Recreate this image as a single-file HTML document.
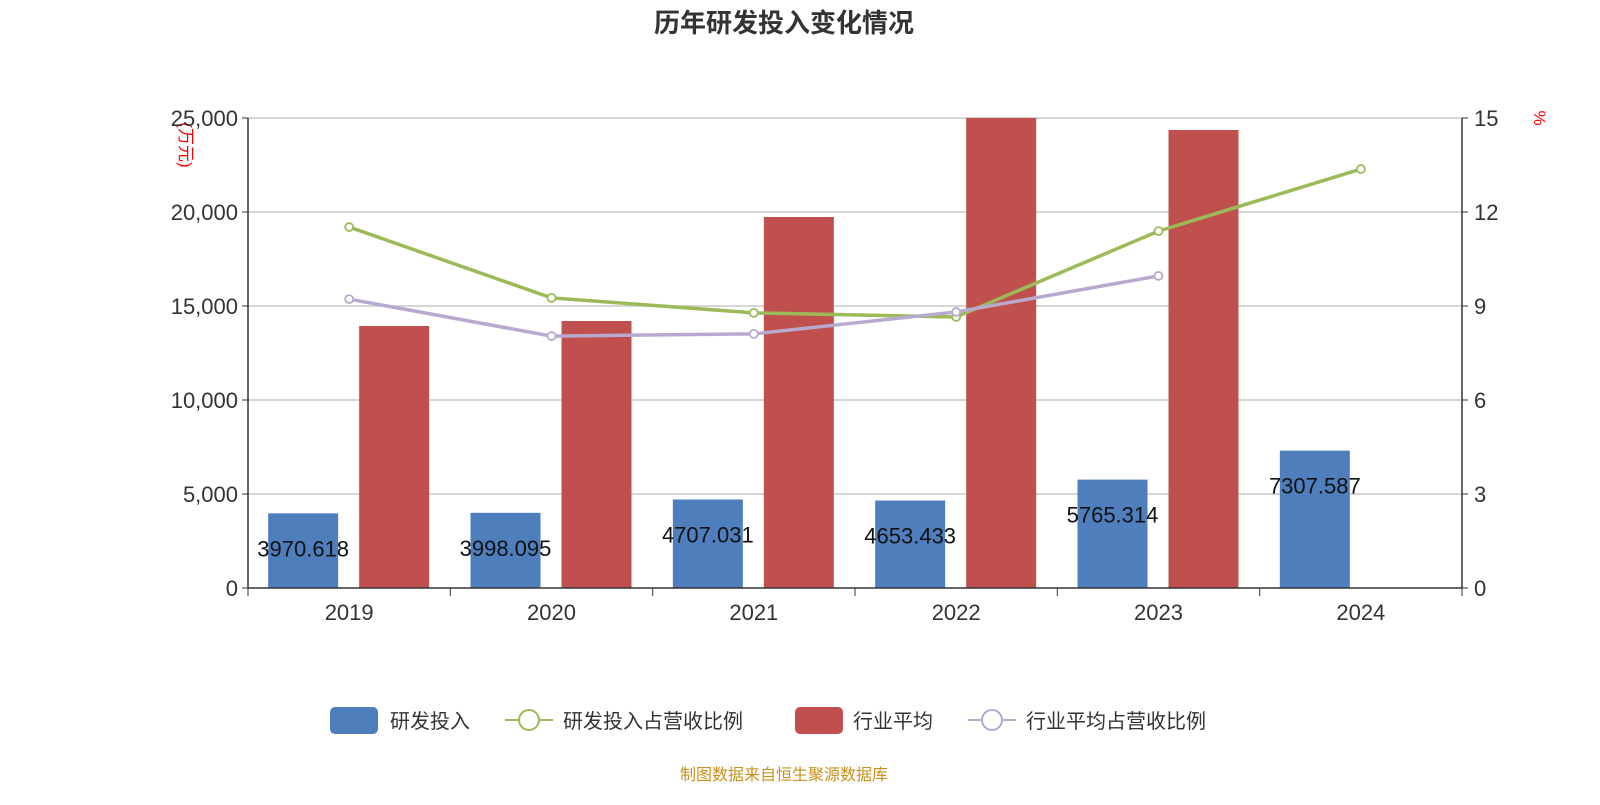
<!DOCTYPE html>
<html><head><meta charset="utf-8"><style>
body{margin:0;background:#fff;width:1600px;height:800px;overflow:hidden;font-family:"Liberation Sans","Noto Sans CJK SC",sans-serif}
</style></head><body>
<svg id="c" width="1600" height="800" xmlns="http://www.w3.org/2000/svg" font-family="Liberation Sans, Noto Sans CJK SC, sans-serif">
<text x="784" y="32" text-anchor="middle" font-size="26" font-weight="bold" fill="#333">历年研发投入变化情况</text>
<text transform="translate(180,145) rotate(90)" text-anchor="middle" font-size="17" fill="#f00">(万元)</text>
<text transform="translate(1534,118) rotate(90)" text-anchor="middle" font-size="17" fill="#f00">%</text>
<g id="grid"></g><g id="bars"></g><g id="lines"></g><g id="axes"></g>
<g font-size="20" fill="#333">
<g><rect x="330" y="707" width="48" height="27" rx="5" fill="#4f7ebd"/><text x="390" y="728">研发投入</text></g>
<g><line x1="505" y1="720" x2="553" y2="720" stroke="#9bbb59" stroke-width="2"/><circle cx="529" cy="720" r="10" fill="#fff" stroke="#9bbb59" stroke-width="2"/><text x="563" y="728">研发投入占营收比例</text></g>
<g><rect x="795" y="707" width="48" height="27" rx="5" fill="#c0504d"/><text x="853" y="728">行业平均</text></g>
<g><line x1="968" y1="720" x2="1016" y2="720" stroke="#b8a9cf" stroke-width="2"/><circle cx="992" cy="720" r="10" fill="#fff" stroke="#b8a9cf" stroke-width="2"/><text x="1026" y="728">行业平均占营收比例</text></g>
</g>
<text x="784" y="780" text-anchor="middle" font-size="16" fill="#c8901c">制图数据来自恒生聚源数据库</text>
</svg>
<script>
const categories=["2019","2020","2021","2022","2023","2024"];
const rdInvest=[3970.618,3998.095,4707.031,4653.433,5765.314,7307.587];
const industryAvg=[13936,14202,19734,25000,24362,null];
const rdRatio=[11.52,9.26,8.78,8.65,11.39,13.37];
const industryRatio=[9.22,8.04,8.11,8.81,9.96,null];
const leftTicks=[0,5000,10000,15000,20000,25000];
const rightTicks=[0,3,6,9,12,15];
const NS="http://www.w3.org/2000/svg";
const X0=248,X1=1462,Y0=588,Y1=118;
const band=(X1-X0)/categories.length;
const xc=i=>X0+band*(i+0.5);
const yL=v=>Y0-(Math.min(v,25000)/25000)*(Y0-Y1);
const yR=v=>Y0-(v/15)*(Y0-Y1);
function mk(tag,attrs,parent){const e=document.createElementNS(NS,tag);for(const k in attrs)e.setAttribute(k,attrs[k]);document.getElementById(parent).appendChild(e);return e;}
leftTicks.forEach((t,i)=>{
 const y=yL(t);
 if(t>0){const g=mk('line',{x1:X0,x2:X1,y1:y,y2:y,stroke:'#c8c8c8','stroke-width':1.5},'grid');
 
 }
 const l=mk('text',{x:X0-10,y:y+8,'text-anchor':'end','font-size':22,fill:'#333'},'axes');l.textContent=t.toLocaleString('en-US');
 
 
 mk('line',{x1:X0-6,x2:X0,y1:y,y2:y,stroke:'#333'},'axes');
});
rightTicks.forEach(t=>{
 const y=yR(t);
 const l=mk('text',{x:X1+12,y:y+8,'font-size':22,fill:'#333'},'axes');l.textContent=t;
 
 
 mk('line',{x1:X1,x2:X1+6,y1:y,y2:y,stroke:'#333'},'axes');
});
mk('line',{x1:X0,x2:X0,y1:Y1,y2:Y0,stroke:'#333','stroke-width':1.5},'axes');
mk('line',{x1:X1,x2:X1,y1:Y1,y2:Y0,stroke:'#333','stroke-width':1.5},'axes');
mk('line',{x1:X0,x2:X1,y1:Y0,y2:Y0,stroke:'#333','stroke-width':1.5},'axes');
for(let i=0;i<=categories.length;i++){const x=X0+band*i;mk('line',{x1:x,x2:x,y1:Y0,y2:Y0+8,stroke:'#333'},'axes');}
categories.forEach((c,i)=>{
 const l=mk('text',{x:xc(i),y:620,'text-anchor':'middle','font-size':22,fill:'#333'},'axes');l.textContent=c;
 
 
 const yb=yL(rdInvest[i]);
 const b=mk('rect',{x:xc(i)-81,y:yb,width:70,height:Y0-yb,fill:'#4f7ebd'},'bars');
 
 
 const t=mk('text',{x:xc(i)-46,y:yb+43,'text-anchor':'middle','font-size':22,fill:'#111'},'lines');t.textContent=rdInvest[i];
 
 
 if(industryAvg[i]!=null){const yr=yL(industryAvg[i]);
 const r=mk('rect',{x:xc(i)+10,y:yr,width:70,height:Y0-yr,fill:'#c0504d'},'bars');
 
 }
});
function line(data,color,name){
 const pts=[];data.forEach((v,i)=>{if(v!=null)pts.push([xc(i),yR(v)]);});
 const p=mk('polyline',{points:pts.map(p=>p.join(',')).join(' '),fill:'none',stroke:color,'stroke-width':3.5},'lines');
 
 
 pts.forEach(q=>{const c=mk('circle',{cx:q[0],cy:q[1],r:4,fill:'#fff',stroke:color,'stroke-width':1.8},'lines');
 
 });
}
line(rdRatio,'#9bbb59','rd-ratio-line');
line(industryRatio,'#b8a9cf','industry-ratio-line');
</script>
</body></html>
